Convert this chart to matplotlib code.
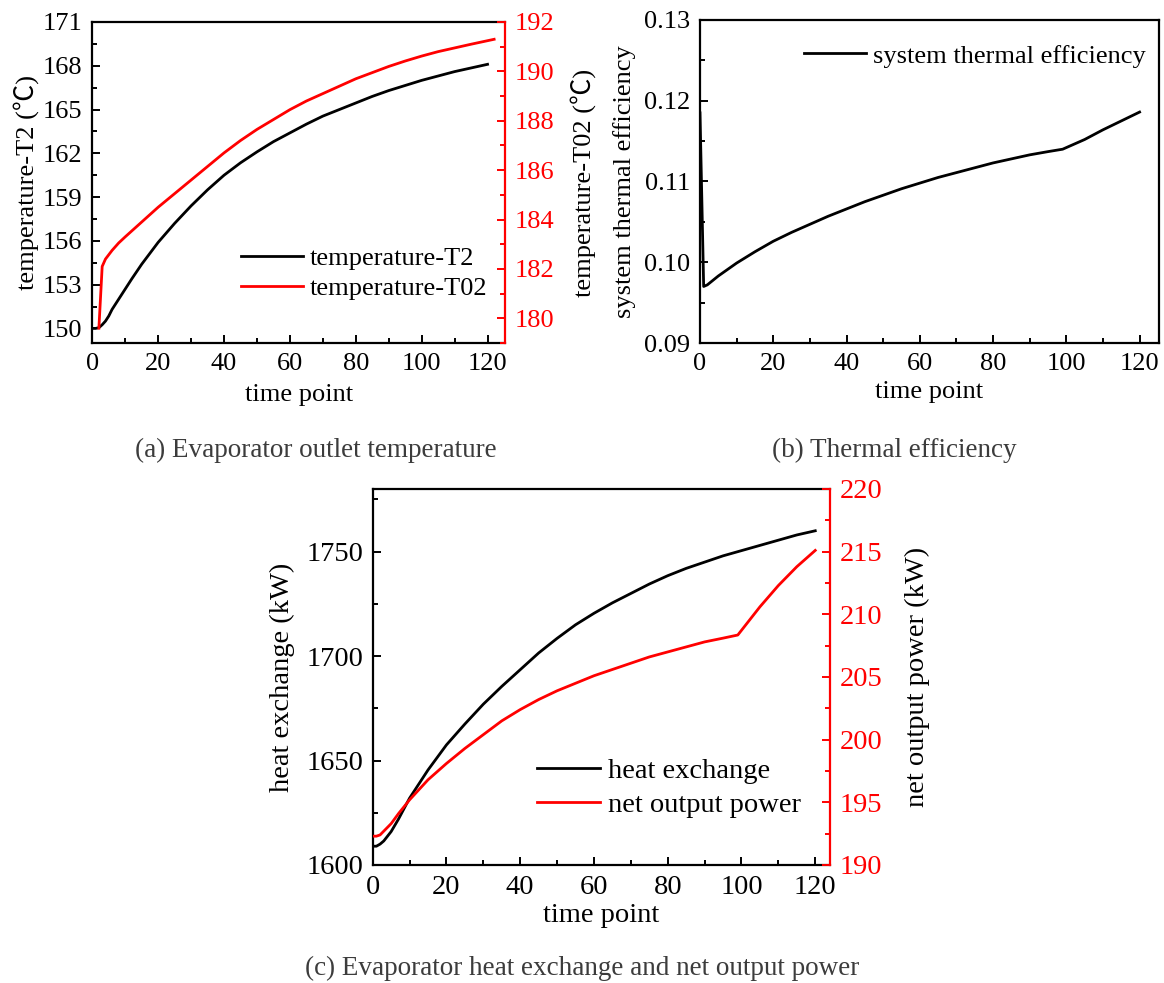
import matplotlib
matplotlib.use("Agg")
import matplotlib.pyplot as plt
from matplotlib.ticker import MultipleLocator

plt.rcParams['font.family'] = ['Liberation Serif', 'Noto Sans CJK SC', 'DejaVu Sans']

# ---------------- data ----------------
# (a) evaporator outlet temperature
t_T2 = [0, 1, 2, 3, 4, 5, 6, 8, 10, 12, 15, 20, 25, 30, 35, 40, 45, 50, 55, 60,
        65, 70, 75, 80, 85, 90, 95, 100, 105, 110, 115, 120]
T2 = [150.0, 150.0, 150.05, 150.25, 150.5, 150.85, 151.3, 152.0, 152.7, 153.4,
      154.4, 155.9, 157.2, 158.4, 159.5, 160.5, 161.35, 162.1, 162.8, 163.4,
      164.0, 164.55, 165.0, 165.45, 165.9, 166.3, 166.65, 167.0, 167.3, 167.6,
      167.85, 168.1]
t_T02 = [2, 3, 4, 6, 8, 10, 15, 20, 25, 30, 35, 40, 45, 50, 55, 60, 65, 70, 75,
         80, 85, 90, 95, 100, 105, 110, 115, 122]
T02 = [179.6, 182.1, 182.4, 182.75, 183.05, 183.3, 183.9, 184.5, 185.05, 185.6,
       186.15, 186.7, 187.2, 187.65, 188.05, 188.45, 188.8, 189.1, 189.4, 189.7,
       189.95, 190.2, 190.42, 190.62, 190.8, 190.95, 191.1, 191.3]

# (b) system thermal efficiency
t_eff = [0, 1, 2, 5, 10, 15, 20, 25, 30, 35, 40, 45, 50, 55, 60, 65, 70, 75, 80,
         85, 90, 95, 99, 105, 110, 115, 120]
eff = [0.1185, 0.0970, 0.0972, 0.0983, 0.0999, 0.1013, 0.1026, 0.1037, 0.1047,
       0.1057, 0.1066, 0.1075, 0.1083, 0.1091, 0.1098, 0.1105, 0.1111, 0.1117,
       0.1123, 0.1128, 0.1133, 0.1137, 0.1140, 0.1152, 0.1164, 0.1175, 0.1186]

# (c) heat exchange and net output power
t_heat = [0, 1, 2, 3, 5, 7, 10, 15, 20, 25, 30, 35, 40, 45, 50, 55, 60, 65, 70,
          75, 80, 85, 90, 95, 100, 105, 110, 115, 120]
heat = [1609, 1609, 1610, 1611.5, 1616, 1622, 1632, 1645.5, 1657.5, 1667.5, 1677,
        1685.5, 1693.5, 1701.5, 1708.5, 1715, 1720.5, 1725.5, 1730, 1734.5,
        1738.5, 1742, 1745, 1748, 1750.5, 1753, 1755.5, 1758, 1760]
t_power = [0, 1, 2, 3, 5, 7, 10, 15, 20, 25, 30, 35, 40, 45, 50, 55, 60, 65, 70,
           75, 80, 85, 90, 95, 99, 105, 110, 115, 120]
power = [192.3, 192.3, 192.4, 192.7, 193.3, 194.1, 195.2, 196.8, 198.1, 199.3,
         200.4, 201.5, 202.4, 203.2, 203.9, 204.5, 205.1, 205.6, 206.1, 206.6,
         207.0, 207.4, 207.8, 208.1, 208.35, 210.6, 212.3, 213.8, 215.1]

x_ticks = [0, 20, 40, 60, 80, 100, 120]

# ---------------- figure ----------------
W, H = 1164, 983
fig = plt.figure(figsize=(W / 100, H / 100), dpi=100)


def add_axes_px(left, top, right, bottom):
    return fig.add_axes([left / W, 1 - bottom / H, (right - left) / W, (bottom - top) / H])


LW = 2.0
SPW = 1.6


def style_axis(ax, fs, color='black'):
    ax.tick_params(which='both', direction='in', width=1.4, labelsize=fs, colors=color)
    ax.tick_params(which='major', length=6, pad=7)
    ax.tick_params(which='minor', length=3.5)
    for s in ax.spines.values():
        s.set_linewidth(SPW)


# ===== panel (a) =====
fsA = 19
axA = add_axes_px(92.3, 22, 505, 343)
axA.plot(t_T2, T2, color='black', lw=LW, label='temperature-T2')
axA.set_xlim(0, 125.3)
axA.set_ylim(149, 171)
axA.set_xticks(x_ticks)
axA.xaxis.set_minor_locator(MultipleLocator(10))
axA.yaxis.set_major_locator(MultipleLocator(3))
axA.yaxis.set_minor_locator(MultipleLocator(1.5))
style_axis(axA, fsA)
axA.tick_params(top=False, right=False, which='both')
axA.spines['right'].set_visible(False)
axA2 = axA.twinx()
axA2.plot(t_T02, T02, color='red', lw=LW, label='temperature-T02')
axA2.set_ylim(179, 192)
axA2.yaxis.set_major_locator(MultipleLocator(2))
axA2.yaxis.set_minor_locator(MultipleLocator(1))
style_axis(axA2, fsA, 'red')
axA2.spines['right'].set_color('red')
axA2.spines['left'].set_visible(False)
axA2.spines['top'].set_visible(False)
axA2.spines['bottom'].set_visible(False)

axA.set_xlabel('time point', fontsize=fsA)
axA.xaxis.set_label_coords(0.5, (343 - 395) / 321)
axA.xaxis.label.set_va('center')
axA.set_ylabel('temperature-T2 (℃)', fontsize=fsA)
axA.yaxis.set_label_coords((26 - 92.3) / 412.7, 0.5)
axA.yaxis.label.set_va('center')
axA2.set_ylabel('temperature-T02 (℃)', fontsize=fsA, color='black')
axA2.yaxis.set_label_coords((583 - 92.3) / 412.7, 0.5)
axA2.yaxis.label.set_va('center')

hA = axA.get_lines() + axA2.get_lines()
axA.legend(hA, [h.get_label() for h in hA], loc='upper left',
           bbox_to_anchor=(0.36, 0.30), frameon=False, fontsize=fsA,
           handlelength=2.35, handletextpad=0.25, labelspacing=0.25,
           borderpad=0, borderaxespad=0)

# ===== panel (b) =====
fsB = 19
axB = add_axes_px(700, 20, 1159, 343)
axB.plot(t_eff, eff, color='black', lw=LW, label='system thermal efficiency')
axB.set_xlim(0, 125.3)
axB.set_ylim(0.09, 0.13)
axB.set_xticks(x_ticks)
axB.xaxis.set_minor_locator(MultipleLocator(10))
axB.yaxis.set_major_locator(MultipleLocator(0.01))
axB.yaxis.set_minor_locator(MultipleLocator(0.005))
axB.yaxis.set_major_formatter(matplotlib.ticker.FormatStrFormatter('%.2f'))
style_axis(axB, fsB)
axB.tick_params(top=False, right=False, which='both')
axB.set_xlabel('time point', fontsize=fsB)
axB.xaxis.set_label_coords(0.5, (343 - 392) / 323)
axB.xaxis.label.set_va('center')
axB.set_ylabel('system thermal efficiency', fontsize=fsB)
axB.yaxis.set_label_coords((625 - 700) / 459, 0.5)
axB.yaxis.label.set_va('center')
axB.legend(loc='upper left', bbox_to_anchor=(0.2266, 0.925), frameon=False,
           fontsize=fsB, handlelength=2.35, handletextpad=0.25,
           borderpad=0, borderaxespad=0)

# ===== panel (c) =====
fsC = 20.5
axC = add_axes_px(372.7, 489, 830, 865)
axC.plot(t_heat, heat, color='black', lw=LW, label='heat exchange')
axC.set_xlim(0, 124)
axC.set_ylim(1600, 1780)
axC.set_xticks(x_ticks)
axC.xaxis.set_minor_locator(MultipleLocator(10))
axC.yaxis.set_major_locator(MultipleLocator(50))
axC.yaxis.set_minor_locator(MultipleLocator(25))
style_axis(axC, fsC)
axC.tick_params(top=False, right=False, which='both')
axC.spines['right'].set_visible(False)
axC2 = axC.twinx()
axC2.plot(t_power, power, color='red', lw=LW, label='net output power')
axC2.set_ylim(190, 220)
axC2.yaxis.set_major_locator(MultipleLocator(5))
axC2.yaxis.set_minor_locator(MultipleLocator(2.5))
style_axis(axC2, fsC, 'red')
axC2.spines['right'].set_color('red')
axC2.spines['left'].set_visible(False)
axC2.spines['top'].set_visible(False)
axC2.spines['bottom'].set_visible(False)

axC.set_xlabel('time point', fontsize=fsC)
axC.xaxis.set_label_coords(0.5, (865 - 915) / 376)
axC.xaxis.label.set_va('center')
axC.set_ylabel('heat exchange (kW)', fontsize=fsC)
axC.yaxis.set_label_coords((282 - 372.7) / 457.3, 0.5)
axC.yaxis.label.set_va('center')
axC2.set_ylabel('net output power (kW)', fontsize=fsC, color='black')
axC2.yaxis.set_label_coords((917 - 372.7) / 457.3, 0.5)
axC2.yaxis.label.set_va('center')

hC = axC.get_lines() + axC2.get_lines()
axC.legend(hC, [h.get_label() for h in hC], loc='upper left',
           bbox_to_anchor=(0.359, 0.285), frameon=False, fontsize=fsC,
           handlelength=2.2, handletextpad=0.3, labelspacing=0.3,
           borderpad=0, borderaxespad=0)

# captions
cap_col = '#3c3c3c'
fig.text(316 / W, 1 - 450 / H, '(a) Evaporator outlet temperature', fontsize=19.5,
         color=cap_col, ha='center', va='center')
fig.text(894 / W, 1 - 450 / H, '(b) Thermal efficiency', fontsize=19.5,
         color=cap_col, ha='center', va='center')
fig.text(582 / W, 1 - 968 / H, '(c) Evaporator heat exchange and net output power',
         fontsize=19.5, color=cap_col, ha='center', va='center')

fig.savefig('out.png', dpi=100)
